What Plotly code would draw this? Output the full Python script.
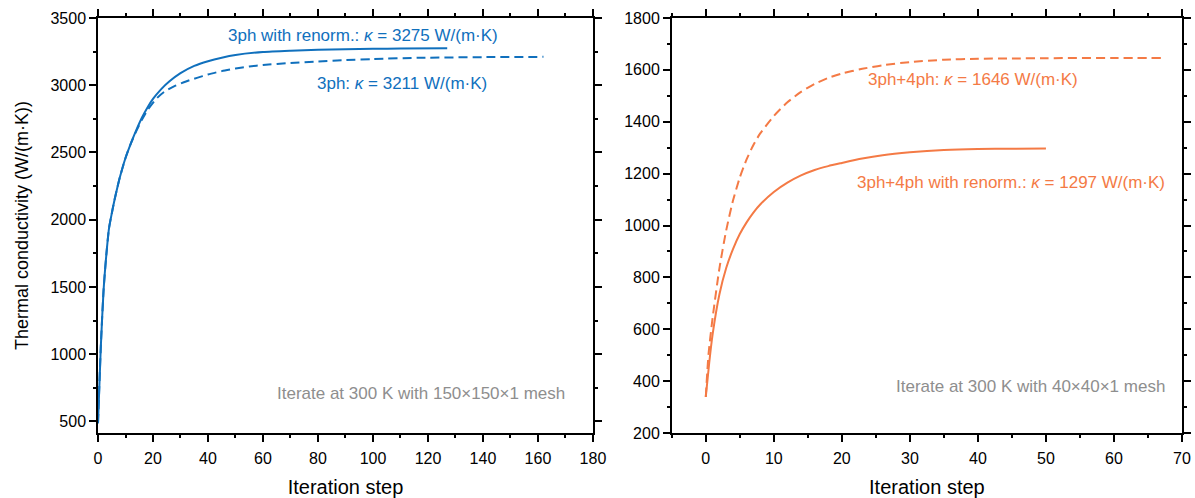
import plotly.graph_objects as go

# ---------------- data ----------------
# Left panel: 150x150x1 mesh
l_renorm_x = [0, 1, 2, 3, 4, 5, 6, 7, 8, 10, 12, 14, 16, 18, 20, 23, 26, 30, 35, 40, 45, 50, 60, 70, 80, 90, 100, 110, 127]
l_renorm_y = [487, 1045, 1467, 1732, 1936, 2046, 2147, 2236, 2319, 2459, 2570, 2670, 2760, 2835, 2898, 2971, 3029,
              3090, 3144, 3179, 3205, 3225, 3247, 3257, 3264, 3268, 3271, 3273, 3275]
l_3ph_x = [0, 1, 2, 3, 4, 5, 6, 7, 8, 10, 12, 14, 16, 18, 21, 24, 28, 32, 36, 40, 45, 50, 55, 60, 70, 80, 90, 100,
           117, 140, 162]
l_3ph_y = [487, 1045, 1467, 1732, 1936, 2046, 2147, 2236, 2319, 2459, 2570, 2662, 2745, 2815, 2895, 2950, 2995,
           3028, 3055, 3080, 3105, 3124, 3139, 3150, 3166, 3177, 3187, 3195, 3204, 3209, 3211]

# Right panel: 40x40x1 mesh
r_renorm_x = [0, 0.5, 1, 2, 3, 4, 5, 6, 7, 8, 10, 12, 14, 16, 18, 20, 23, 26, 30, 35, 40, 45, 50]
r_renorm_y = [339, 469, 579, 734, 836, 909, 967, 1012, 1050, 1081, 1129, 1165, 1193, 1214, 1229, 1241, 1258, 1271,
              1282, 1291, 1295, 1296, 1297]
r_4ph_x = [0, 0.4, 1, 2, 3, 4, 5, 6, 7, 8, 10, 12, 14, 16, 18, 20, 23, 26, 30, 35, 40, 45, 50, 60, 67]
r_4ph_y = [339, 503, 643, 834, 981, 1096, 1185, 1255, 1310, 1355, 1422, 1475, 1515, 1546, 1569, 1586, 1604, 1618,
           1630, 1639, 1643, 1644, 1645, 1646, 1646]

label_l_renorm = "3ph with renorm.: <i>κ</i> = 3275 W/(m·K)"
label_l_3ph = "3ph: <i>κ</i> = 3211 W/(m·K)"
label_r_4ph = "3ph+4ph: <i>κ</i> = 1646 W/(m·K)"
label_r_renorm = "3ph+4ph with renorm.: <i>κ</i> = 1297 W/(m·K)"
note_l = "Iterate at 300 K with 150×150×1 mesh"
note_r = "Iterate at 300 K with 40×40×1 mesh"

x_title = "Iteration step"
y_title = "Thermal conductivity (W/(m·K))"

BLUE = "#1070bd"
ORANGE = "#f47a45"
GRAY = "#8e8e8e"
FONT = "Liberation Sans, Arial, sans-serif"

L_XR = [0, 180]
L_YR = [414, 3500]
R_XR = [-5, 70]
R_YR = [200, 1800]

fig = go.Figure()

line_kw = dict(width=2, shape="spline", smoothing=0.6)
fig.add_trace(go.Scatter(x=l_renorm_x, y=l_renorm_y, mode="lines", xaxis="x", yaxis="y",
                         line=dict(color=BLUE, **line_kw)))
fig.add_trace(go.Scatter(x=l_3ph_x, y=l_3ph_y, mode="lines", xaxis="x", yaxis="y",
                         line=dict(color=BLUE, dash="9px,5px", **line_kw)))
fig.add_trace(go.Scatter(x=r_renorm_x, y=r_renorm_y, mode="lines", xaxis="x2", yaxis="y2",
                         line=dict(color=ORANGE, **line_kw)))
fig.add_trace(go.Scatter(x=r_4ph_x, y=r_4ph_y, mode="lines", xaxis="x2", yaxis="y2",
                         line=dict(color=ORANGE, dash="9px,5px", **line_kw)))

tickfont = dict(family=FONT, size=16, color="black")
titlefont_x = dict(family=FONT, size=20, color="black")
titlefont_y = dict(family=FONT, size=18, color="black")

dom_l = [0, 0.4566]
dom_r = [0.5293, 1.0]

def minor(dt):
    return dict(dtick=dt, ticks="outside", ticklen=3.5, tickwidth=1.5, tickcolor="black")

def base_axis(**kw):
    d = dict(showline=True, linecolor="black", linewidth=1.5, showgrid=False, zeroline=False, automargin=False,
             ticks="outside", ticklen=7, tickwidth=1.5, tickcolor="black", tickfont=tickfont,
             mirror="allticks")
    d.update(kw)
    return d

fig.update_layout(
    width=1195, height=498,
    margin=dict(l=98, r=13, t=18, b=65),
    paper_bgcolor="white", plot_bgcolor="white",
    showlegend=False,
    font=dict(family=FONT),
    xaxis=base_axis(domain=dom_l, range=L_XR, dtick=20, tick0=0, anchor="y", minor=minor(10),
                    ticklabelstandoff=3, title=dict(text=x_title, font=titlefont_x, standoff=24)),
    yaxis=base_axis(domain=[0, 1], range=L_YR, dtick=500, tick0=0, anchor="x", minor=minor(250),
                    title=dict(text=y_title, font=titlefont_y, standoff=17)),
    xaxis2=base_axis(domain=dom_r, range=R_XR, dtick=10, tick0=0, anchor="y2", minor=minor(5),
                     ticklabelstandoff=3, title=dict(text=x_title, font=titlefont_x, standoff=24)),
    yaxis2=base_axis(domain=[0, 1], range=R_YR, dtick=200, tick0=0, anchor="x2", minor=minor(100)),
)

annfont_b = dict(family=FONT, size=17, color=BLUE)
annfont_o = dict(family=FONT, size=17, color=ORANGE)
annfont_g = dict(family=FONT, size=17, color=GRAY)

fig.add_annotation(x=96.4, y=3368, xref="x", yref="y", text=label_l_renorm, showarrow=False, font=annfont_b)
fig.add_annotation(x=110.6, y=3011, xref="x", yref="y", text=label_l_3ph, showarrow=False, font=annfont_b)
fig.add_annotation(x=170.4, y=705, xref="x", yref="y", text=note_l, showarrow=False, font=annfont_g, xanchor="right")
fig.add_annotation(x=39.3, y=1563, xref="x2", yref="y2", text=label_r_4ph, showarrow=False, font=annfont_o)
fig.add_annotation(x=44.9, y=1165, xref="x2", yref="y2", text=label_r_renorm, showarrow=False, font=annfont_o)
fig.add_annotation(x=67.8, y=379, xref="x2", yref="y2", text=note_r, showarrow=False, font=annfont_g, xanchor="right")

fig.write_html("out.html")
